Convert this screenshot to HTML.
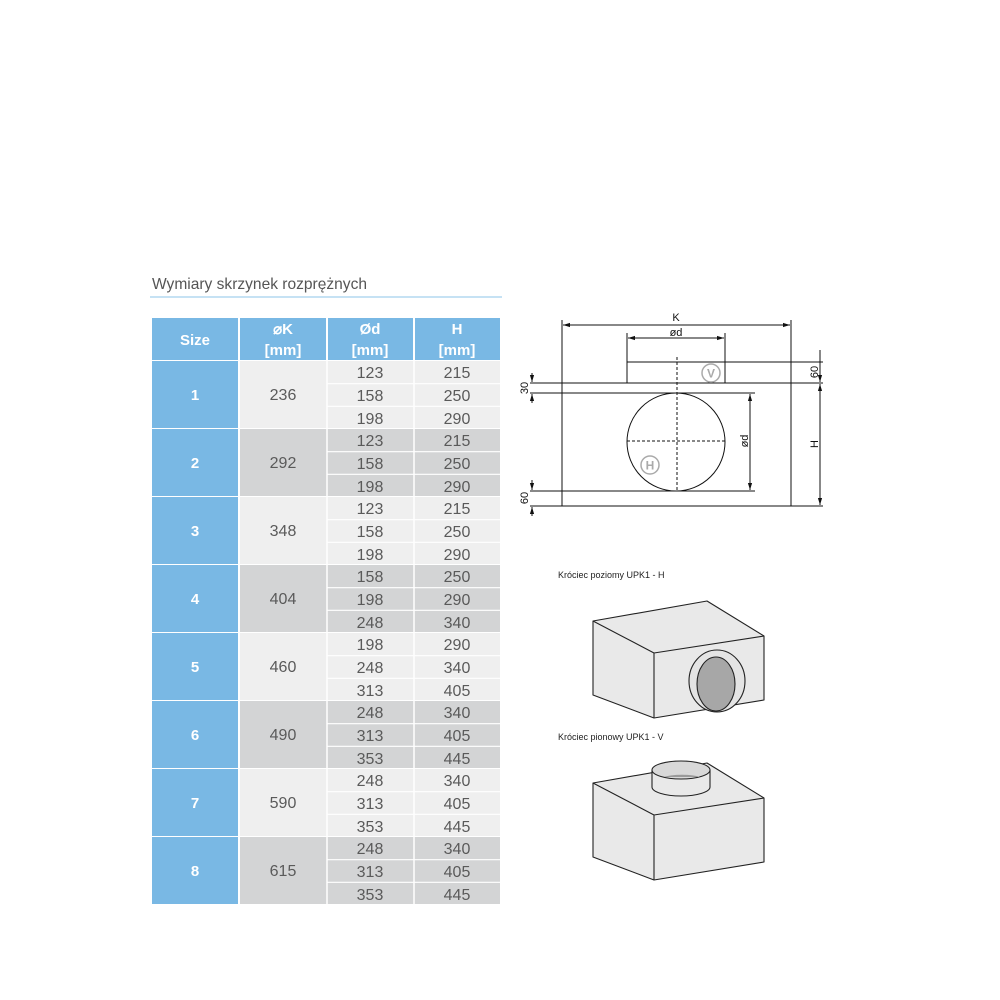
<!DOCTYPE html>
<html><head><meta charset="utf-8"><style>
html,body{margin:0;padding:0;background:#fff;width:1000px;height:1000px;overflow:hidden}
svg{display:block}
.t{font-family:"Liberation Sans Narrow","Liberation Sans",sans-serif;font-size:16px;fill:#5a5a5a;text-anchor:middle}
.h{font-family:"Liberation Sans Narrow","Liberation Sans",sans-serif;font-size:15px;font-weight:bold;fill:#fff;text-anchor:middle}
.d{font-family:"Liberation Sans Narrow","Liberation Sans",sans-serif;font-size:11px;fill:#111;text-anchor:middle}
</style></head><body>
<svg width="1000" height="1000" viewBox="0 0 1000 1000" xmlns="http://www.w3.org/2000/svg">
<text x="152" y="289" font-family="Liberation Sans Narrow, Liberation Sans, sans-serif" font-size="16" fill="#555" textLength="215" lengthAdjust="spacingAndGlyphs">Wymiary skrzynek rozprężnych</text>
<line x1="150" y1="297" x2="502" y2="297" stroke="#8cc4e8" stroke-width="1"/>

<g fill="#79b8e4">
<rect x="152" y="318" width="86" height="42"/><rect x="240" y="318" width="86" height="42"/>
<rect x="328" y="318" width="85" height="42"/><rect x="415" y="318" width="85" height="42"/>
</g>
<text class="h" x="195" y="345">Size</text>
<text class="h" x="283" y="334">⌀K</text><text class="h" x="283" y="355">[mm]</text>
<text class="h" x="370" y="334">Ød</text><text class="h" x="370" y="355">[mm]</text>
<text class="h" x="457" y="334">H</text><text class="h" x="457" y="355">[mm]</text>

<g fill="#79b8e4">
<rect x="152" y="361" width="86" height="67"/><rect x="152" y="429" width="86" height="67"/>
<rect x="152" y="497" width="86" height="67"/><rect x="152" y="565" width="86" height="67"/>
<rect x="152" y="633" width="86" height="67"/><rect x="152" y="701" width="86" height="67"/>
<rect x="152" y="769" width="86" height="67"/><rect x="152" y="837" width="86" height="67"/>
</g>
<g fill="#efefef">
<rect x="240" y="361" width="260" height="67"/><rect x="240" y="497" width="260" height="67"/>
<rect x="240" y="633" width="260" height="67"/><rect x="240" y="769" width="260" height="67"/>
</g>
<g fill="#d3d4d5">
<rect x="240" y="429" width="260" height="67"/><rect x="240" y="565" width="260" height="67"/>
<rect x="240" y="701" width="260" height="67"/><rect x="240" y="837" width="260" height="67"/>
</g>
<g stroke="#fff" stroke-width="1.5">
<line x1="327" y1="361" x2="327" y2="905"/><line x1="414" y1="361" x2="414" y2="905"/>
</g>
<g stroke="#fff" stroke-width="1.2">
<line x1="327" y1="383.7" x2="500" y2="383.7"/><line x1="327" y1="406.3" x2="500" y2="406.3"/>
<line x1="327" y1="451.7" x2="500" y2="451.7"/><line x1="327" y1="474.3" x2="500" y2="474.3"/>
<line x1="327" y1="519.7" x2="500" y2="519.7"/><line x1="327" y1="542.3" x2="500" y2="542.3"/>
<line x1="327" y1="587.7" x2="500" y2="587.7"/><line x1="327" y1="610.3" x2="500" y2="610.3"/>
<line x1="327" y1="655.7" x2="500" y2="655.7"/><line x1="327" y1="678.3" x2="500" y2="678.3"/>
<line x1="327" y1="723.7" x2="500" y2="723.7"/><line x1="327" y1="746.3" x2="500" y2="746.3"/>
<line x1="327" y1="791.7" x2="500" y2="791.7"/><line x1="327" y1="814.3" x2="500" y2="814.3"/>
<line x1="327" y1="859.7" x2="500" y2="859.7"/><line x1="327" y1="882.3" x2="500" y2="882.3"/>
</g>
<text class="h" x="195" y="400">1</text><text class="h" x="195" y="468">2</text>
<text class="h" x="195" y="536">3</text><text class="h" x="195" y="604">4</text>
<text class="h" x="195" y="672">5</text><text class="h" x="195" y="740">6</text>
<text class="h" x="195" y="808">7</text><text class="h" x="195" y="876">8</text>
<text class="t" x="283" y="400">236</text><text class="t" x="283" y="468">292</text>
<text class="t" x="283" y="536">348</text><text class="t" x="283" y="604">404</text>
<text class="t" x="283" y="672">460</text><text class="t" x="283" y="740">490</text>
<text class="t" x="283" y="808">590</text><text class="t" x="283" y="876">615</text>
<text class="t" x="370" y="378">123</text><text class="t" x="457" y="378">215</text>
<text class="t" x="370" y="401">158</text><text class="t" x="457" y="401">250</text>
<text class="t" x="370" y="424">198</text><text class="t" x="457" y="424">290</text>
<text class="t" x="370" y="446">123</text><text class="t" x="457" y="446">215</text>
<text class="t" x="370" y="469">158</text><text class="t" x="457" y="469">250</text>
<text class="t" x="370" y="492">198</text><text class="t" x="457" y="492">290</text>
<text class="t" x="370" y="514">123</text><text class="t" x="457" y="514">215</text>
<text class="t" x="370" y="537">158</text><text class="t" x="457" y="537">250</text>
<text class="t" x="370" y="560">198</text><text class="t" x="457" y="560">290</text>
<text class="t" x="370" y="582">158</text><text class="t" x="457" y="582">250</text>
<text class="t" x="370" y="605">198</text><text class="t" x="457" y="605">290</text>
<text class="t" x="370" y="628">248</text><text class="t" x="457" y="628">340</text>
<text class="t" x="370" y="650">198</text><text class="t" x="457" y="650">290</text>
<text class="t" x="370" y="673">248</text><text class="t" x="457" y="673">340</text>
<text class="t" x="370" y="696">313</text><text class="t" x="457" y="696">405</text>
<text class="t" x="370" y="718">248</text><text class="t" x="457" y="718">340</text>
<text class="t" x="370" y="741">313</text><text class="t" x="457" y="741">405</text>
<text class="t" x="370" y="764">353</text><text class="t" x="457" y="764">445</text>
<text class="t" x="370" y="786">248</text><text class="t" x="457" y="786">340</text>
<text class="t" x="370" y="809">313</text><text class="t" x="457" y="809">405</text>
<text class="t" x="370" y="832">353</text><text class="t" x="457" y="832">445</text>
<text class="t" x="370" y="854">248</text><text class="t" x="457" y="854">340</text>
<text class="t" x="370" y="877">313</text><text class="t" x="457" y="877">405</text>
<text class="t" x="370" y="900">353</text><text class="t" x="457" y="900">445</text>

<defs>
<marker id="a" viewBox="0 0 10 10" refX="10" refY="5" markerWidth="7" markerHeight="7" orient="auto-start-reverse"><path d="M0,2 L10,5 L0,8 z" fill="#111"/></marker>
</defs>
<g stroke="#111" stroke-width="1" fill="none">
<line x1="562" y1="320" x2="562" y2="506"/><line x1="791" y1="320" x2="791" y2="506"/>
<line x1="563" y1="325" x2="790" y2="325" marker-start="url(#a)" marker-end="url(#a)"/>
<line x1="627" y1="333" x2="627" y2="383"/><line x1="725" y1="333" x2="725" y2="383"/>
<line x1="628" y1="338" x2="724" y2="338" marker-start="url(#a)" marker-end="url(#a)"/>
<line x1="627" y1="362" x2="823" y2="362"/>
<line x1="530" y1="383" x2="823" y2="383"/>
<line x1="530" y1="393" x2="755" y2="393"/>
<line x1="530" y1="491" x2="755" y2="491"/>
<line x1="530" y1="506" x2="823" y2="506"/>
<circle cx="676" cy="442" r="49"/>
<line x1="677" y1="357" x2="677" y2="491" stroke-dasharray="3,2"/>
<line x1="627" y1="441" x2="725" y2="441" stroke-dasharray="3,2"/>
<line x1="750" y1="394" x2="750" y2="490" marker-start="url(#a)" marker-end="url(#a)"/>
<line x1="820" y1="384" x2="820" y2="505" marker-start="url(#a)" marker-end="url(#a)"/>
<line x1="820" y1="350" x2="820" y2="382" marker-end="url(#a)"/>
<line x1="532" y1="373" x2="532" y2="382" marker-end="url(#a)"/>
<line x1="532" y1="403" x2="532" y2="394" marker-end="url(#a)"/>
<line x1="532" y1="480" x2="532" y2="490" marker-end="url(#a)"/>
<line x1="532" y1="516" x2="532" y2="507" marker-end="url(#a)"/>
</g>
<g stroke="#aaa" stroke-width="1.5" fill="none"><circle cx="711" cy="373" r="9"/><circle cx="650" cy="465" r="9"/></g>
<text x="711" y="377.5" text-anchor="middle" font-family="Liberation Sans" font-size="12" font-weight="bold" fill="#aaa">V</text>
<text x="650" y="469.5" text-anchor="middle" font-family="Liberation Sans" font-size="12" font-weight="bold" fill="#aaa">H</text>
<text class="d" x="676" y="321">K</text>
<text class="d" x="676" y="336">ød</text>
<text class="d" transform="translate(818,372) rotate(-90)">60</text>
<text class="d" transform="translate(528,388) rotate(-90)">30</text>
<text class="d" transform="translate(528,498) rotate(-90)">60</text>
<text class="d" transform="translate(748,441) rotate(-90)">ød</text>
<text class="d" transform="translate(818,444) rotate(-90)">H</text>

<text x="558" y="578" font-family="Liberation Sans Narrow, Liberation Sans, sans-serif" font-size="9" fill="#222">Króciec poziomy UPK1 - H</text>
<g stroke="#222" stroke-width="1.1" fill="#e9e9e9" stroke-linejoin="round">
<path d="M593,621 L707,601 L764,636 L764,700 L654,718 L593,695 Z"/>
<path d="M593,621 L654,653 L764,636 M654,653 L654,718" fill="none"/>
<ellipse cx="717" cy="681" rx="28" ry="31" fill="#e4e4e4"/>
<ellipse cx="716" cy="684" rx="19" ry="27" fill="#a7a7a7"/>
</g>
<text x="558" y="740" font-family="Liberation Sans Narrow, Liberation Sans, sans-serif" font-size="9" fill="#222">Króciec pionowy UPK1 - V</text>
<g stroke="#222" stroke-width="1.1" fill="#e9e9e9" stroke-linejoin="round">
<path d="M593,783 L707,763 L764,798 L764,862 L654,880 L593,857 Z"/>
<path d="M593,783 L654,815 L764,798 M654,815 L654,880" fill="none"/>
<path d="M652,770 L652,787 A29,9 0 0 0 710,787 L710,770 Z" fill="#e9e9e9"/>
<ellipse cx="681" cy="770" rx="29" ry="9" fill="#d8d8d8"/>
<path d="M664,777 A20,4 0 0 1 700,777 Z" fill="#999" stroke="none"/>
</g>
</svg>
</body></html>
